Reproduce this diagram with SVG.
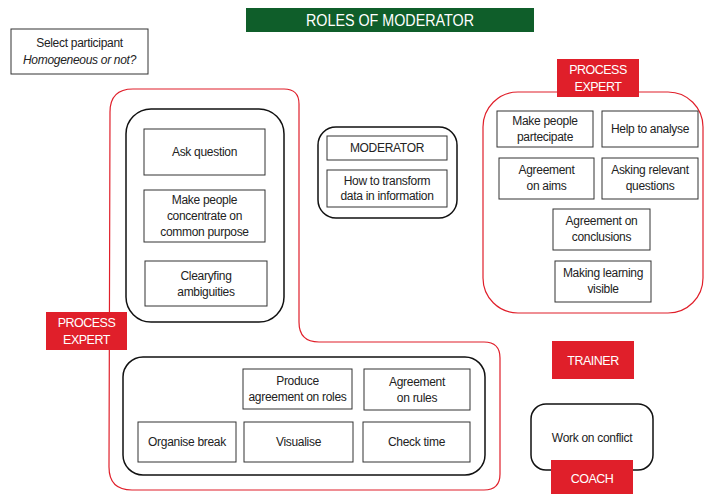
<svg xmlns="http://www.w3.org/2000/svg" width="706" height="495" viewBox="0 0 706 495">
<style>
text{font-family:"Liberation Sans",Arial,sans-serif;font-size:12px;fill:#222;text-anchor:middle;letter-spacing:-0.3px}
.box{fill:#fff;stroke:#333;stroke-width:1}
.grp{fill:none;stroke:#111;stroke-width:1.5}
.red{fill:none;stroke:#e01f2a;stroke-width:1.2}
.lab{fill:#e01f2a}
.lt{fill:#fff;font-size:12.5px;letter-spacing:-0.5px}
</style>
<rect width="706" height="495" fill="#fff"/>
<g id="title"><rect x="246" y="8" width="288" height="24" fill="#0f5e2a"/><text x="390" y="26" textLength="168" lengthAdjust="spacingAndGlyphs" style="fill:#fff;font-size:16px;letter-spacing:0">ROLES OF MODERATOR</text></g>
<g id="select"><rect class="box" x="11" y="29" width="137" height="45"/><text x="79.5" y="47">Select participant</text><text x="79.5" y="64" font-style="italic">Homogeneous or not?</text></g>
<g id="connectors"></g>
<g id="region-left"><path class="red" d="M110 112 Q110 89 133 89 L284 89 Q299 89 299 104 L299 322 Q299 342 319 342 L484 342 Q500 342 500 358 L500 474 Q500 490 484 490 L132 490 Q109 490 109 467 Z"/></g>
<g id="group-left"><rect class="grp" x="126" y="109" width="158" height="213" rx="25"/>
<rect class="box" x="144" y="129" width="121" height="46"/><text x="204.5" y="156">Ask question</text>
<rect class="box" x="144" y="190" width="121" height="52"/><text x="204.5" y="204">Make people</text><text x="204.5" y="220">concentrate on</text><text x="204.5" y="236">common purpose</text>
<rect class="box" x="145" y="261" width="122" height="45"/><text x="206" y="280">Clearyfing</text><text x="206" y="296">ambiguities</text></g>
<g id="moderator"><rect class="grp" x="318" y="127" width="139" height="91" rx="18"/>
<rect class="box" x="327" y="136" width="120" height="24"/><text x="387" y="152">MODERATOR</text>
<rect class="box" x="327" y="170" width="120" height="37"/><text x="387" y="185">How to transform</text><text x="387" y="200">data in information</text></g>
<g id="region-right"><rect class="red" x="483" y="92" width="220" height="221" rx="35"/>
<rect class="box" x="497" y="111" width="96" height="36"/><text x="545" y="125">Make people</text><text x="545" y="141">partecipate</text>
<rect class="box" x="602" y="111" width="96" height="36"/><text x="650" y="133">Help to analyse</text>
<rect class="box" x="499" y="158" width="95" height="41"/><text x="546.5" y="174">Agreement</text><text x="546.5" y="190">on aims</text>
<rect class="box" x="602" y="158" width="96" height="41"/><text x="650" y="174">Asking relevant</text><text x="650" y="190">questions</text>
<rect class="box" x="553" y="209" width="97" height="41"/><text x="601.5" y="225">Agreement on</text><text x="601.5" y="241">conclusions</text>
<rect class="box" x="555" y="261" width="96" height="41"/><text x="603" y="277">Making learning</text><text x="603" y="293">visible</text></g>
<g id="label-right"><rect class="lab" x="557" y="59" width="82" height="38"/><text class="lt" x="598" y="74">PROCESS</text><text class="lt" x="598" y="91">EXPERT</text></g>
<g id="label-left"><rect class="lab" x="46" y="312" width="81" height="38"/><text class="lt" x="86.5" y="327">PROCESS</text><text class="lt" x="86.5" y="344">EXPERT</text></g>
<g id="group-bottom"><rect class="grp" x="123" y="357" width="362" height="118" rx="20"/>
<rect class="box" x="243" y="369" width="109" height="40"/><text x="297.5" y="385">Produce</text><text x="297.5" y="401">agreement on roles</text>
<rect class="box" x="364" y="369" width="106" height="41"/><text x="417" y="386">Agreement</text><text x="417" y="402">on rules</text>
<rect class="box" x="138" y="422" width="98" height="40"/><text x="187" y="446">Organise break</text>
<rect class="box" x="244" y="422" width="109" height="40"/><text x="298.5" y="446">Visualise</text>
<rect class="box" x="363" y="422" width="107" height="40"/><text x="416.5" y="446">Check time</text></g>
<g id="trainer"><rect class="lab" x="552" y="341" width="82" height="38"/><text class="lt" x="593" y="365">TRAINER</text></g>
<g id="conflict"><rect class="grp" x="531" y="404" width="122" height="66" rx="15"/><text x="592" y="442">Work on conflict</text></g>
<g id="coach"><rect class="lab" x="551" y="460" width="82" height="34"/><text class="lt" x="592" y="483">COACH</text></g>
</svg>
